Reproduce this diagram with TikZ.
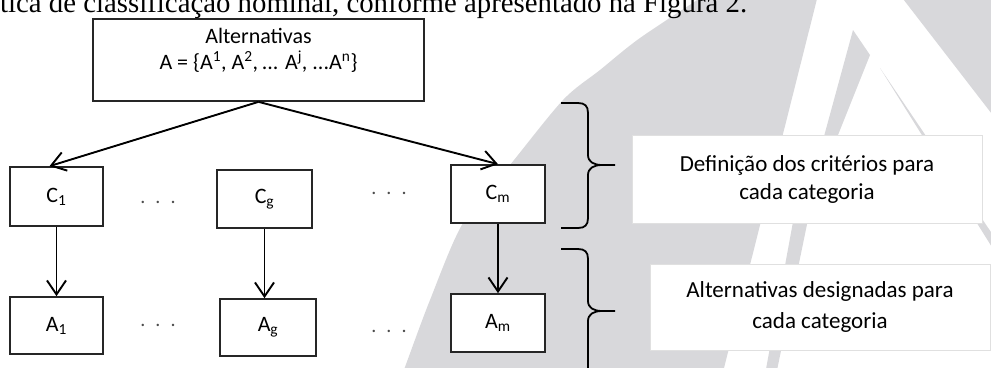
\documentclass[tikz,border=0pt]{standalone}
\usepackage{fontspec}
\setmainfont{Carlito}
\newfontfamily\textoserif{Liberation Serif}
\usetikzlibrary{arrows.meta}
\definecolor{marca}{RGB}{216,216,219}

\begin{document}
\begin{tikzpicture}[x=1pt,y=-1pt,
	caixa/.style={draw=black!85, line width=1.7pt, fill=white, inner sep=0pt, font=\fontsize{22}{26}\selectfont},
	nota/.style={draw=black!12, line width=0.8pt, fill=white, align=center, inner sep=0pt},
	seta/.style={-{Straight Barb[length=14pt,width=19pt]}, line width=1.9pt},
	chave/.style={line width=1.8pt},
	pontos/.style={text=black!70, font=\fontsize{20}{24}\selectfont}]
			\useasboundingbox (0,0) rectangle (991,367);
			\fill[marca] plot[smooth] coordinates {(400,380) (405,367) (430,300) (463,223) (510,165) (563,100) (600,70) (640,38) (705,-5)} -- (818,-5) -- (721,380) -- cycle;
			\fill[marca] (853,30) -- (870,55) -- (812,200) -- (775,380) -- (764,380) -- (797,200) -- (823,140) -- cycle;
			\fill[marca] (900,-5) -- (995,-5) -- (995,118) -- cycle;
			\fill[marca] (880,68) -- (995,238) -- (995,252) -- cycle;
			\node[caixa, minimum width=331pt, minimum height=82pt] (alt) at (258.5,60) {};
			\node[align=center, inner sep=0pt, font=\fontsize{22}{26}\selectfont] (alttxt) at ([yshift=10pt]alt.center) {Alternativas\\A = \{A\textsuperscript{1}, A\textsuperscript{2},\,... A\textsuperscript{j}, ...A\textsuperscript{n}\}};
			\node[anchor=base west, inner sep=0pt, font=\textoserif\fontsize{28.8}{30}\selectfont] (frase) at (0,12.5) {tica de classificação nominal, conforme apresentado na Figura 2.};
			\node[caixa, minimum width=93pt, minimum height=59pt] (c1) at (56.5,196.5) {C\textsubscript{1}};
			\node[caixa, minimum width=95pt, minimum height=58pt] (cg) at (264.5,199) {C\textsubscript{g}};
			\node[caixa, minimum width=94pt, minimum height=58pt] (cm) at (498,194) {C\textsubscript{m}};
			\node[caixa, minimum width=93pt, minimum height=57pt] (a1) at (56.5,325.5) {A\textsubscript{1}};
			\node[caixa, minimum width=96pt, minimum height=57pt] (ag) at (268,327.5) {A\textsubscript{g}};
			\node[caixa, minimum width=94pt, minimum height=58pt] (am) at (498,323) {A\textsubscript{m}};
			\node[pontos] (p1) at (158,202) {.\hspace{10pt}.\hspace{10pt}.};
			\node[pontos] (p2) at (389,193) {.\hspace{10pt}.\hspace{10pt}.};
			\node[pontos] (p3) at (158,325) {.\hspace{10pt}.\hspace{10pt}.};
			\node[pontos] (p4) at (389,331) {.\hspace{10pt}.\hspace{10pt}.};
			\draw[seta] (alt.south) -- ([xshift=-7pt]c1.north);
			\draw[seta] (alt.south) -- (cm.north);
			\draw[seta] (c1) -- (a1);
			\draw[seta] (cg.south) -- (cg.south |- ag.north);
			\draw[seta] (cm) -- (am);
			\draw[chave] (561,103) -- (578,103) .. controls (585,103) and (588,106) .. (588,113) -- (588,155) .. controls (588,162) and (594,165) .. (602,165) -- (615,165) (602,165) .. controls (594,165) and (588,168) .. (588,175) -- (588,218) .. controls (588,225) and (585,228) .. (578,228) -- (561,228);
			\draw[chave] (561,249) -- (578,249) .. controls (585,249) and (588,252) .. (588,259) -- (588,301) .. controls (588,308) and (594,311) .. (602,311) -- (615,311) (602,311) .. controls (594,311) and (588,314) .. (588,321) -- (588,380);
			\node[nota, minimum width=350pt, minimum height=88pt, font=\fontsize{23}{28}\selectfont] (def) at (807,179) {Definição dos critérios para\\cada categoria};
			\node[nota, minimum width=340pt, minimum height=86pt, font=\fontsize{23}{31}\selectfont] (desig) at (820,307) {Alternativas designadas para\\cada categoria};
		\end{tikzpicture}
\end{document}
